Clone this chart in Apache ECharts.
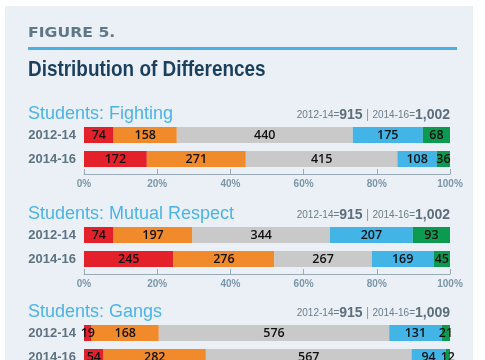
<!DOCTYPE html>
<html><head><meta charset="utf-8">
<script src="https://cdn.jsdelivr.net/npm/echarts@6/dist/echarts.min.js"></script>
<style>html,body{margin:0;padding:0;background:#fff;overflow:hidden}#c{width:485px;height:420px}</style>
</head><body><div id="c"></div>
<script>
var periods = ['2012-14', '2014-16'];
var segmentNames = ['Much worse', 'Worse', 'Same', 'Better', 'Much better'];
var sectionTitles = ['Students: Fighting', 'Students: Mutual Respect', 'Students: Gangs'];
var fighting1214 = [74, 158, 440, 175, 68];
var fighting1416 = [172, 271, 415, 108, 36];
var respect1214 = [74, 197, 344, 207, 93];
var respect1416 = [245, 276, 267, 169, 45];
var gangs1214 = [19, 168, 576, 131, 21];
var gangs1416 = [54, 282, 567, 94, 12];
var tickValues = [0, 20, 40, 60, 80, 100];

var sections = [[fighting1214, fighting1416], [respect1214, respect1416], [gangs1214, gangs1416]];
var colors = ['#e4202a', '#f18a2b', '#c9c9c9', '#42b4e6', '#0b9a4f'];
var gridTops = [123, 223, 321];
var titleY = [114, 214, 312];

function sum(a) { return a.reduce(function (s, v) { return s + v; }, 0); }
function fmt(n) { return n.toLocaleString('en-US'); }

var grids = [], xAxes = [], yAxes = [], series = [], graphics = [];

graphics.push({ type: 'rect', shape: { x: 5, y: 6, width: 468, height: 420 }, style: { fill: '#eaf0f5' }, silent: true, z: -10 });
graphics.push({ type: 'text', x: 28, y: 33, scaleX: 1.12, style: { text: 'FIGURE 5.', font: 'bold 14px "DejaVu Sans"', fill: '#5f7888', textVerticalAlign: 'middle' } });
graphics.push({ type: 'rect', shape: { x: 28, y: 47, width: 429, height: 3 }, style: { fill: '#4ab0e4' } });
graphics.push({ type: 'text', x: 28, y: 70, scaleX: 0.86, style: { text: 'Distribution of Differences', font: 'bold 22px "Liberation Sans"', fill: '#1b3f5e', textVerticalAlign: 'middle' } });

sections.forEach(function (sec, i) {
  grids.push({ left: 84, width: 366, top: gridTops[i], height: 48, containLabel: false });
  xAxes.push({
    type: 'value', gridIndex: i, min: tickValues[0], max: tickValues[tickValues.length - 1], interval: tickValues[1] - tickValues[0], offset: 3,
    axisLine: { show: true, lineStyle: { color: '#9aabb8', width: 1 } },
    axisTick: { show: true, inside: true, length: 5, lineStyle: { color: '#9aabb8' } },
    axisLabel: { formatter: '{value}%', color: '#7c96a8', fontSize: 10, margin: 5, fontFamily: 'Liberation Sans', fontWeight: 'bold' },
    splitLine: { show: false }
  });
  yAxes.push({
    type: 'category', gridIndex: i, data: periods, inverse: true,
    axisLine: { show: false }, axisTick: { show: false },
    axisLabel: { color: '#5d7282', fontSize: 13, fontWeight: 'bold', margin: 8, fontFamily: 'Liberation Sans' }
  });
  var totals = sec.map(sum);
  segmentNames.forEach(function (name, k) {
    series.push({
      type: 'bar', name: name, xAxisIndex: i, yAxisIndex: i, stack: 's' + i,
      barWidth: 16, itemStyle: { color: colors[k] },
      label: {
        show: true, position: 'inside', color: '#111', fontSize: 12.5, fontFamily: 'Open Sans', fontWeight: 600,
        formatter: function (p) { return sec[p.dataIndex][k]; }
      },
      emphasis: { disabled: true },
      data: sec.map(function (row, r) { return row[k] / totals[r] * 100; })
    });
  });
  graphics.push({ type: 'text', x: 28, y: titleY[i], style: { text: sectionTitles[i], font: '18px "Liberation Sans"', fill: '#4db3e6', textVerticalAlign: 'middle' } });
  graphics.push({
    type: 'text', x: 450, y: titleY[i] + 1,
    style: {
      text: '{s|' + periods[0] + '=}{b|' + fmt(totals[0]) + '}{p| | }{s|' + periods[1] + '=}{b|' + fmt(totals[1]) + '}',
      textAlign: 'right', textVerticalAlign: 'middle',
      rich: {
        s: { fontSize: 10, fill: '#6b7d8a', fontFamily: 'Liberation Sans' },
        b: { fontSize: 14, fontWeight: 'bold', fill: '#5d6f7c', fontFamily: 'Liberation Sans' },
        p: { fontSize: 12, fill: '#8a9aa6', fontFamily: 'Liberation Sans' }
      }
    }
  });
});

var chart = echarts.init(document.getElementById('c'), null, { renderer: 'canvas' });
chart.setOption({
  backgroundColor: '#ffffff',
  animation: false,
  grid: grids, xAxis: xAxes, yAxis: yAxes, series: series,
  graphic: graphics
});
</script></body></html>
